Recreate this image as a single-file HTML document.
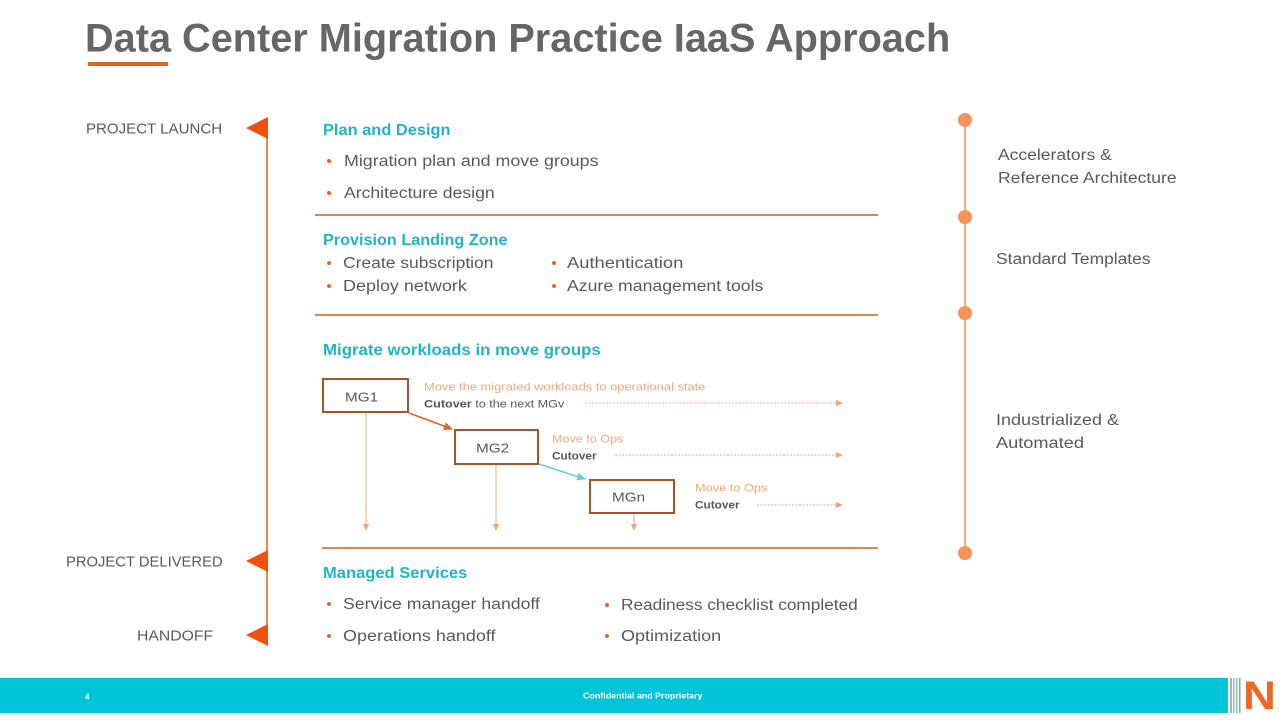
<!DOCTYPE html>
<html><head><meta charset="utf-8">
<style>
html,body{margin:0;padding:0;background:#fff;}
#pg{position:relative;width:1280px;height:720px;overflow:hidden;background:#fff;font-family:"Liberation Sans",Arial,sans-serif;}
.t{position:absolute;white-space:nowrap;line-height:1.15;color:#595959;transform-origin:0 50%;transform:translateY(calc(-50% + 2px));}
.h{color:#22b3c7;font-weight:bold;}
.s{color:#f2a679;}
.b{color:#555;}
svg{position:absolute;left:0;top:0;}
</style></head><body>
<div id="pg">
<svg width="1280" height="720" viewBox="0 0 1280 720">
  <defs>
    <marker id="ah" markerWidth="8" markerHeight="8" refX="6" refY="4" orient="auto" markerUnits="userSpaceOnUse">
      <path d="M0,1 L7,4 L0,7 z" fill="#f0a47a"/>
    </marker>
    <marker id="ahr" markerWidth="10" markerHeight="10" refX="8" refY="5" orient="auto" markerUnits="userSpaceOnUse">
      <path d="M0,1 L9,5 L0,9 z" fill="#e2631f"/>
    </marker>
    <marker id="aht" markerWidth="10" markerHeight="10" refX="8" refY="5" orient="auto" markerUnits="userSpaceOnUse">
      <path d="M0,1 L9,5 L0,9 z" fill="#5fd0dc"/>
    </marker>
  </defs>
  <rect x="88" y="62" width="80" height="4" fill="#e8601c"/>
  <line x1="267" y1="118" x2="267" y2="645" stroke="#ee8456" stroke-width="2"/>
  <polygon points="246,128 268,117 268,139" fill="#f0500f"/>
  <polygon points="246,561 268,550 268,572" fill="#f0500f"/>
  <polygon points="246,635 268,624 268,646" fill="#f0500f"/>
  <line x1="315" y1="215" x2="878" y2="215" stroke="#d9875a" stroke-width="2"/>
  <line x1="315" y1="315" x2="878" y2="315" stroke="#d9875a" stroke-width="2"/>
  <line x1="322" y1="548" x2="878" y2="548" stroke="#d9875a" stroke-width="2"/>
  <g fill="#e8642c">
    <circle cx="329" cy="161" r="2"/>
    <circle cx="329" cy="193" r="2"/>
    <circle cx="329" cy="263" r="2"/>
    <circle cx="329" cy="286" r="2"/>
    <circle cx="554" cy="263" r="2"/>
    <circle cx="554" cy="286" r="2"/>
    <circle cx="329" cy="604" r="2"/>
    <circle cx="329" cy="636" r="2"/>
    <circle cx="607" cy="605" r="2"/>
    <circle cx="607" cy="636" r="2"/>
  </g>
  <rect x="323" y="379" width="85" height="33" fill="#fff" stroke="#a4532e" stroke-width="2"/>
  <rect x="455" y="430" width="83" height="34" fill="#fff" stroke="#a4532e" stroke-width="2"/>
  <rect x="590" y="480" width="84" height="33" fill="#fff" stroke="#a4532e" stroke-width="2"/>
  <line x1="409" y1="413" x2="452" y2="429" stroke="#e2631f" stroke-width="1.5" marker-end="url(#ahr)"/>
  <line x1="539" y1="464" x2="585" y2="479" stroke="#5fd0dc" stroke-width="1.5" marker-end="url(#aht)"/>
  <line x1="366" y1="413" x2="366" y2="530" stroke="#f0a47a" stroke-width="1" marker-end="url(#ah)"/>
  <line x1="496" y1="465" x2="496" y2="530" stroke="#f0a47a" stroke-width="1" marker-end="url(#ah)"/>
  <line x1="634" y1="514" x2="634" y2="530" stroke="#f0a47a" stroke-width="1" marker-end="url(#ah)"/>
  <line x1="585" y1="403" x2="842" y2="403" stroke="#f0a47a" stroke-width="1" stroke-dasharray="2,1.5" marker-end="url(#ah)"/>
  <line x1="615" y1="455" x2="842" y2="455" stroke="#f0a47a" stroke-width="1" stroke-dasharray="2,1.5" marker-end="url(#ah)"/>
  <line x1="757" y1="505" x2="842" y2="505" stroke="#f0a47a" stroke-width="1" stroke-dasharray="2,1.5" marker-end="url(#ah)"/>
  <line x1="965" y1="120" x2="965" y2="553" stroke="#f2ad88" stroke-width="2"/>
  <g fill="#f4935f">
    <circle cx="965" cy="120" r="7"/>
    <circle cx="965" cy="217" r="7"/>
    <circle cx="965" cy="313" r="7"/>
    <circle cx="965" cy="553" r="7"/>
  </g>
  <rect x="0" y="678" width="1228" height="35" fill="#00c4d8"/>
  <rect x="1230" y="678" width="2" height="35" fill="#9fb8be"/>
  <rect x="1233" y="678" width="1.5" height="35" fill="#7fc7c9"/>
  <rect x="1236" y="678" width="1.5" height="35" fill="#a7b5b9"/>
  <rect x="1239" y="678" width="1.5" height="35" fill="#6fb48a"/>
</svg>

<div class="t" style="left:85px;top:37px;font-size:39.5px;font-weight:bold;color:#666;--w:865">Data Center Migration Practice IaaS Approach</div>

<div class="t" style="left:86px;top:128px;font-size:14.5px;--w:136">PROJECT LAUNCH</div>
<div class="t" style="left:66px;top:561px;font-size:14.5px;--w:157">PROJECT DELIVERED</div>
<div class="t" style="left:137px;top:635px;font-size:14.5px;--w:76">HANDOFF</div>

<div class="t h" style="left:323px;top:129px;font-size:15.5px;--w:128">Plan and Design</div>
<div class="t" style="left:344px;top:160px;font-size:15.5px;--w:254">Migration plan and move groups</div>
<div class="t" style="left:344px;top:192px;font-size:15.5px;--w:151">Architecture design</div>

<div class="t h" style="left:323px;top:239px;font-size:15.5px;--w:185">Provision Landing Zone</div>
<div class="t" style="left:343px;top:262px;font-size:15.5px;--w:151">Create subscription</div>
<div class="t" style="left:343px;top:285px;font-size:15.5px;--w:124">Deploy network</div>
<div class="t" style="left:567px;top:262px;font-size:15.5px;--w:116">Authentication</div>
<div class="t" style="left:567px;top:285px;font-size:15.5px;--w:196">Azure management tools</div>

<div class="t h" style="left:323px;top:349px;font-size:15.5px;--w:278">Migrate workloads in move groups</div>

<div class="t" style="left:345px;top:396px;font-size:13px;--w:33">MG1</div>
<div class="t" style="left:476px;top:447px;font-size:13px;--w:33">MG2</div>
<div class="t" style="left:612px;top:496px;font-size:13px;--w:33">MGn</div>

<div class="t s" style="left:424px;top:386px;font-size:11px;--w:281">Move the migrated workloads to operational state</div>
<div class="t b" style="left:424px;top:403px;font-size:11px;--w:140"><b>Cutover</b> to the next MGv</div>
<div class="t s" style="left:552px;top:438px;font-size:11px;--w:71">Move to Ops</div>
<div class="t b" style="left:552px;top:455px;font-size:11px;font-weight:bold;--w:45">Cutover</div>
<div class="t s" style="left:695px;top:487px;font-size:11px;--w:72">Move to Ops</div>
<div class="t b" style="left:695px;top:504px;font-size:11px;font-weight:bold;--w:45">Cutover</div>

<div class="t h" style="left:323px;top:572px;font-size:15.5px;--w:144">Managed Services</div>
<div class="t" style="left:343px;top:603px;font-size:15.5px;--w:197">Service manager handoff</div>
<div class="t" style="left:343px;top:635px;font-size:15.5px;--w:153">Operations handoff</div>
<div class="t" style="left:621px;top:604px;font-size:15.5px;--w:237">Readiness checklist completed</div>
<div class="t" style="left:621px;top:635px;font-size:15.5px;--w:100">Optimization</div>

<div class="t" style="left:998px;top:154px;font-size:15.5px;--w:114">Accelerators &amp;</div>
<div class="t" style="left:998px;top:177px;font-size:15.5px;--w:179">Reference Architecture</div>
<div class="t" style="left:996px;top:258px;font-size:15.5px;--w:155">Standard Templates</div>
<div class="t" style="left:996px;top:419px;font-size:15.5px;--w:123">Industrialized &amp;</div>
<div class="t" style="left:996px;top:442px;font-size:15.5px;--w:88">Automated</div>

<div class="t" style="left:85px;top:695px;font-size:8px;color:#fff;font-weight:bold;--w:4">4</div>
<div class="t" style="left:583px;top:694px;font-size:8px;color:#fff;font-weight:bold;--w:120">Confidential and Proprietary</div>
<div class="t" style="left:1243px;top:694px;font-size:40px;color:#f26522;font-weight:bold;--w:33">N</div>
</div>
<script>
(function(){
  var els=document.querySelectorAll('#pg .t');
  for(var i=0;i<els.length;i++){
    var e=els[i];
    var w=parseFloat(getComputedStyle(e).getPropertyValue('--w'));
    var ow=e.offsetWidth;
    if(w&&ow){
      e.style.transform='translateY(calc(-50% + 2px)) scaleX('+(w/ow)+')';
    }
  }
})();
</script>
</body></html>
